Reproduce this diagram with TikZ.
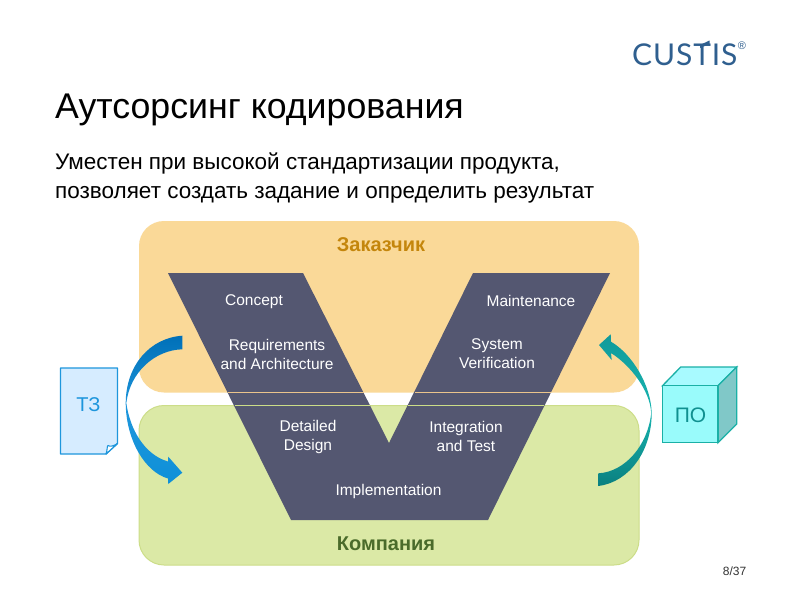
\documentclass[tikz,border=0pt]{standalone}
\usepackage{fontspec}
\setmainfont{Liberation Sans}
\newfontfamily\logofont[LetterSpace=3]{Lato}
\definecolor{vdark}{HTML}{545771}
\definecolor{orangebox}{HTML}{FAD998}
\definecolor{greenbox}{HTML}{DBE9A6}
\definecolor{greenline}{HTML}{CCDD88}
\definecolor{docline}{HTML}{1E96DC}
\definecolor{docfill}{HTML}{D6ECFF}
\definecolor{cubeline}{HTML}{1AB0A6}
\definecolor{logoblue}{HTML}{2F5F8F}
\definecolor{arrowbluetop}{HTML}{0070B8}
\definecolor{arrowblueend}{HTML}{0E90D8}
\definecolor{arrowtealtop}{HTML}{109A9A}
\definecolor{arrowtealmid}{HTML}{18B4B0}
\definecolor{arrowtealend}{HTML}{0A8080}
\definecolor{cubefront}{HTML}{99FBFB}
\definecolor{cubetop}{HTML}{A8FAFF}
\definecolor{cubeside}{HTML}{80C8C8}
\definecolor{cubetext}{HTML}{109090}
\definecolor{customertext}{HTML}{C4860C}
\definecolor{companytext}{HTML}{4A6B2A}
\definecolor{orangerule}{HTML}{EBC48C}
\tikzset{
  x=1pt,y=-1pt,
  zone/.style={rounded corners=25pt,line width=1pt},
  vlabel/.style={text=white,font=\fontsize{15.5}{19}\selectfont,align=center,inner sep=0pt},
  zonetitle/.style={font=\fontsize{20}{22}\selectfont\bfseries,inner sep=0pt},
}
\begin{document}
\begin{tikzpicture}
\useasboundingbox (0,0) rectangle (800,600);
\fill[white] (0,0) rectangle (800,600);
\node[anchor=base west,inner sep=0pt,font=\fontsize{35.7}{40}\selectfont] (title) at (55,118) {Аутсорсинг кодирования};
\node[anchor=base west,inner sep=0pt,font=\fontsize{22.5}{28}\selectfont] (sub) at (55,169) {Уместен при высокой стандартизации продукта,};
\node[anchor=base west,inner sep=0pt,font=\fontsize{22.5}{28}\selectfont] (subb) at (55,198) {позволяет создать задание и определить результат};
\node[anchor=west,inner sep=0pt,text=logoblue,font=\logofont\fontsize{30}{30}\selectfont] (logo) at (632,55) {CUSTIS};
\fill[logoblue] (700,45) -- (709.5,40.5) -- (709.5,44) -- (700,48) -- cycle;
\node[inner sep=0pt,text=logoblue,font=\fontsize{11}{11}\selectfont] (reg) at (742,46) {®};
% zones
\path[fill=orangebox,zone] (139,221) rectangle (639,392.5);
\path[fill=greenbox,draw=greenline,zone] (139,405.5) rectangle (639,565);
\node[zonetitle,text=customertext] (customer) at (381,244.5) {Заказчик};
\node[zonetitle,text=companytext] (company) at (386,544) {Компания};
% V
\fill[vdark] (168,273) -- (303,273) -- (389,443) -- (473,273) -- (610,273) -- (488,520) -- (291,520) -- cycle;
\draw[orangerule,line width=1.5pt] (228,392.5) -- (363.5,392.5) (415,392.5) -- (551,392.5);
\draw[greenline,line width=1.5pt] (234.5,405.5) -- (370,405.5) (408,405.5) -- (544,405.5);
\node[vlabel] (concept) at (254,302) {Concept};
\node[vlabel] (maint) at (531,301) {Maintenance};
\node[vlabel] (req) at (277,354.5) {Requirements\\and Architecture};
\node[vlabel] (sysv) at (497,354) {System\\Verification};
\node[vlabel] (detail) at (308,437) {Detailed\\Design};
\node[vlabel] (integ) at (466,436.5) {Integration\\and Test};
\node[vlabel] (impl) at (388.5,491) {Implementation};
% left arrow
\shade[top color=arrowbluetop,bottom color=arrowblueend,middle color=docline]
  (182.3,335.7) .. controls (150,338) and (126,365) .. (125.7,403)
  .. controls (126,440) and (145,472) .. (168,478.5)
  -- (168.3,484) -- (182.3,472.7) -- (168.3,456.7) -- (168,461.5)
  .. controls (145,455) and (130,430) .. (126.3,403)
  .. controls (130,372) and (155,350) .. (182.3,349.3) -- cycle;
% right arrow
\shade[top color=arrowtealtop,bottom color=arrowtealend,middle color=arrowtealmid]
  (598.3,486) .. controls (630,482) and (651.7,450) .. (651.7,413)
  .. controls (651,385) and (632,354) .. (611,341.7)
  -- (610.7,334.3) -- (599,345) -- (611.7,360) -- (611,353)
  .. controls (630,365) and (650,390) .. (651.2,413)
  .. controls (648,445) and (625,472) .. (598.3,473.3) -- cycle;
% document
\path[fill=docfill,draw=docline,line width=1.4pt,line join=round] (60.5,368) -- (117.5,368) -- (117.5,443.5) -- (106,454) -- (60.5,454) -- cycle;
\path[fill=white,draw=docline,line width=1.1pt,line join=round] (106,454) .. controls (107.5,449.5) and (107,446) .. (108,445.5) .. controls (110,447) and (114,446) .. (117.5,443.5) -- cycle;
\node[inner sep=0pt,text=docline,font=\fontsize{20}{20}\selectfont] (tz) at (88.5,405) {ТЗ};
% cube
\path[fill=cubetop,draw=cubeline,line width=1.3pt] (662.5,385.7) -- (680.7,367) -- (736.7,367) -- (718,385.7) -- cycle;
\path[fill=cubeside,draw=cubeline,line width=1.3pt] (718,385.7) -- (736.7,367) -- (736.7,424) -- (718,442.7) -- cycle;
\path[fill=cubefront,draw=cubeline,line width=1.3pt] (662.5,385.7) rectangle (718,442.7);
\node[inner sep=0pt,text=cubetext,font=\fontsize{21}{21}\selectfont] (po) at (690.5,415) {ПО};
\node[inner sep=0pt,font=\fontsize{12}{12}\selectfont,text=black!80] (page) at (734.5,571) {8/37};
\end{tikzpicture}
\end{document}
